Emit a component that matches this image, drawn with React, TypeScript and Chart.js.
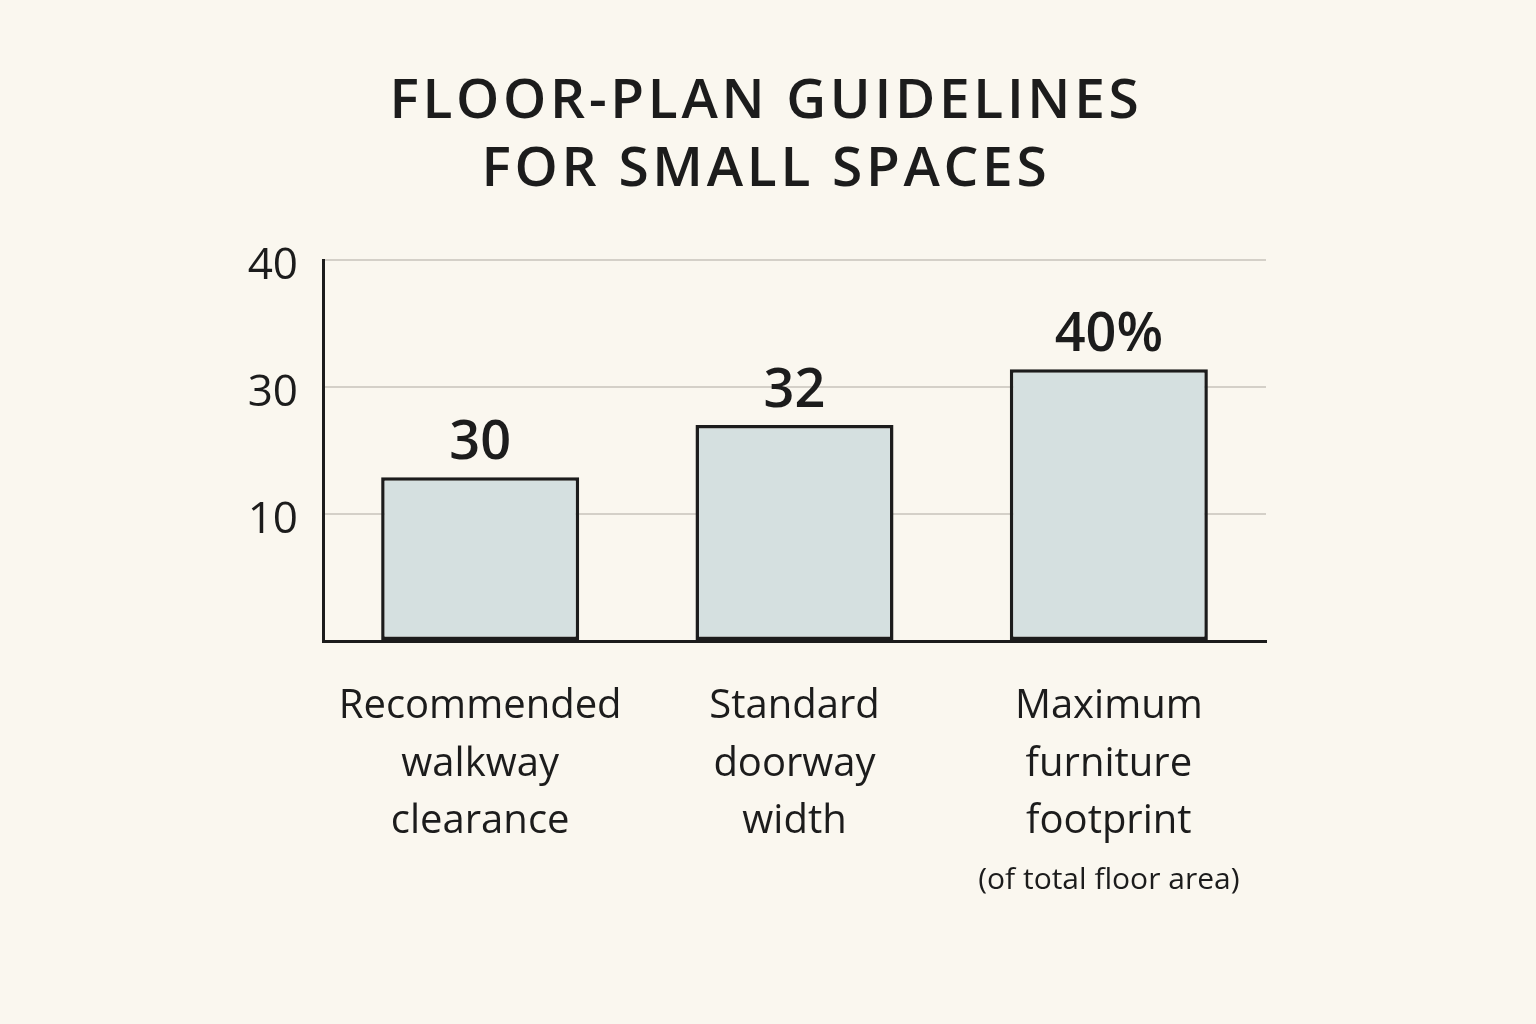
import React, { useEffect, useRef } from "react";
import { Chart, registerables } from "chart.js";

Chart.register(...registerables);

const titleLines = ["FLOOR-PLAN GUIDELINES", "FOR SMALL SPACES"];
const categories = [
  ["Recommended", "walkway", "clearance"],
  ["Standard", "doorway", "width"],
  ["Maximum", "furniture", "footprint"],
];
const categoryNotes = ["", "", "(of total floor area)"];
// bar heights as drawn, in gridline steps (gridlines labelled 10, 30, 40)
const barHeights = [1.29, 1.7, 2.14];
const valueLabels = ["30", "32", "40%"];
const yTickLabels = ["", "10", "30", "40"];

const BG = "#FAF7EF";
const INK = "#1c1c1c";
const FONT = "'Open Sans', 'DejaVu Sans', sans-serif";

export default function App() {
  const ref = useRef<HTMLCanvasElement | null>(null);

  useEffect(() => {
    document.body.style.background = BG;
    const canvas = ref.current;
    if (!canvas) return;

    const titlePlugin = {
      id: "titleDraw",
      afterDraw(chart: any) {
        const ctx = chart.ctx;
        ctx.save();
        ctx.fillStyle = INK;
        ctx.font = `600 55px ${FONT}`;
        (ctx as any).letterSpacing = "3.7px";
        ctx.textAlign = "center";
        ctx.textBaseline = "middle";
        const ys = [102, 170];
        titleLines.forEach((t, i) => ctx.fillText(t, 766, ys[i]));
        ctx.restore();
      },
    };

    const valuePlugin = {
      id: "valueDraw",
      afterDatasetsDraw(chart: any) {
        const ctx = chart.ctx;
        const meta = chart.getDatasetMeta(0);
        ctx.save();
        ctx.fillStyle = INK;
        ctx.font = `550 54px ${FONT}`;
        ctx.textAlign = "center";
        ctx.textBaseline = "alphabetic";
        meta.data.forEach((bar: any, i: number) => {
          ctx.fillText(valueLabels[i], bar.x, bar.y - 18);
        });
        const xs = chart.scales.x;
        ctx.font = `500 30px ${FONT}`;
        ctx.textBaseline = "middle";
        categoryNotes.forEach((n, i) => {
          if (!n) return;
          ctx.fillText(n, xs.getPixelForValue(i), chart.chartArea.bottom + 239);
        });
        ctx.restore();
      },
    };

    const chart = new Chart(canvas, {
      type: "bar",
      data: {
        labels: categories as any,
        datasets: [
          {
            data: barHeights,
            backgroundColor: "#D5E0E0",
            borderColor: INK,
            borderWidth: 3.5,
            borderSkipped: false,
            categoryPercentage: 1,
            barPercentage: 0.63,
          },
        ],
      },
      options: {
        animation: false,
        responsive: false,
        maintainAspectRatio: false,
        layout: { padding: { top: 260, right: 270, left: 0, bottom: 0 } },
        plugins: {
          legend: { display: false },
          title: { display: false },
          tooltip: { enabled: false },
        },
        scales: {
          x: {
            grid: { display: false, drawTicks: false },
            border: { display: true, color: INK, width: 3 },
            ticks: {
              color: INK,
              font: { family: FONT, size: 40, weight: "500" as any, lineHeight: 1.44 },
              padding: 37,
              maxRotation: 0,
              autoSkip: false,
            },
            afterFit(scale: any) {
              scale.height = 383;
            },
          },
          y: {
            min: 0,
            max: 3,
            grid: { color: "#D4D0C8", lineWidth: 2, drawTicks: false },
            border: { display: true, color: INK, width: 3 },
            ticks: {
              stepSize: 1,
              color: INK,
              font: { family: FONT, size: 44, weight: "500" as any },
              padding: 25,
              labelOffset: 6,
              callback: (v: any) => yTickLabels[v] ?? "",
            },
            afterFit(scale: any) {
              scale.width = 323;
            },
          },
        },
      },
      plugins: [titlePlugin, valuePlugin],
    });

    return () => chart.destroy();
  }, []);

  return (
    <div
      style={{
        position: "absolute",
        left: 0,
        top: 0,
        width: 1536,
        height: 1024,
        background: BG,
      }}
    >
      <canvas ref={ref} width={1536} height={1024} style={{ width: 1536, height: 1024, display: "block" }} />
    </div>
  );
}
